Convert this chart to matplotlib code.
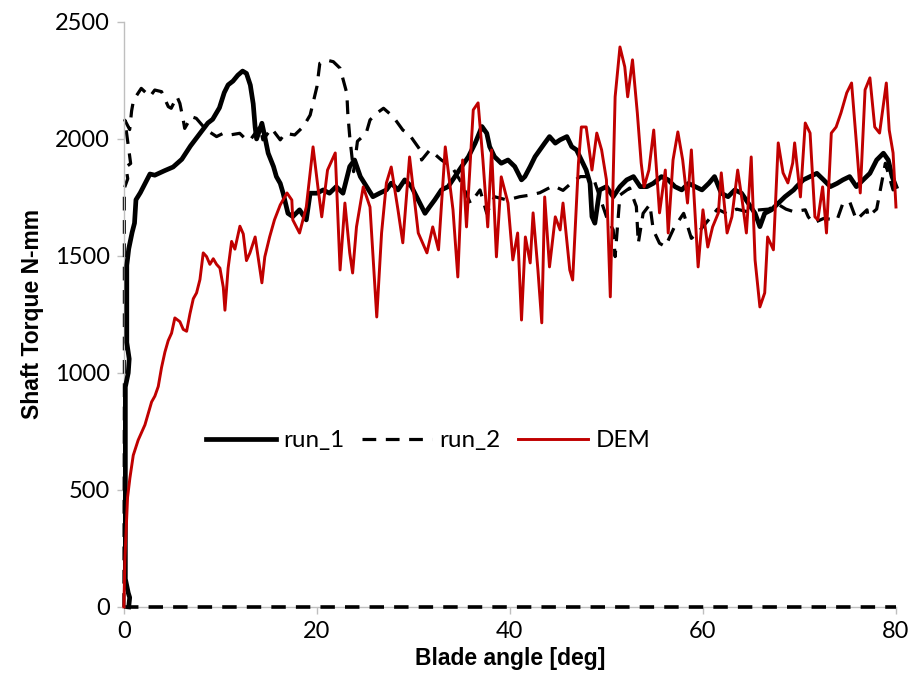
import matplotlib
matplotlib.use("Agg")
import matplotlib.pyplot as plt

# Shaft torque vs. blade angle for two experimental runs and a DEM simulation
run1_x = [0.5, 0.6, 0.45, 0.15, 0.15, 0.45, 0.55, 0.3, 0.3, 0.3, 0.5, 0.85, 1.1, 1.25, 1.7, 2.2, 2.7, 3.2,
          4.2, 5.1, 6.0, 6.9, 7.8, 8.7, 9.2, 9.9, 10.4, 10.8, 11.3, 11.8, 12.3, 12.7, 13.1, 13.4, 13.6,
          13.75, 14.3, 14.6, 14.95, 15.5, 15.8, 16.2, 16.5, 17.0, 17.5, 18.2, 18.9, 19.3, 20.0, 20.65,
          21.3, 22.0, 22.7, 23.4, 23.9, 24.5, 25.15, 25.8, 26.5, 27.2, 27.7, 28.4, 29.1, 29.8, 30.5,
          31.2, 31.7, 32.2, 32.9, 33.6, 34.3, 35.0, 35.7, 36.4, 37.1, 37.6, 37.9, 38.4, 39.1, 39.8,
          40.5, 41.2, 41.55, 42.1, 42.6, 43.1, 43.6, 44.1, 44.7, 45.2, 45.9, 46.4, 46.9, 47.4, 47.9,
          48.3, 48.5, 48.8, 49.3, 50.0, 50.7, 51.4, 52.1, 52.8, 53.5, 54.2, 54.85, 55.7, 56.4, 57.1,
          57.8, 58.5, 59.2, 59.9, 60.6, 61.2, 61.9, 62.6, 63.3, 64.0, 64.7, 65.4, 65.9, 66.4, 67.1,
          67.8, 68.5, 69.4, 69.7, 70.4, 71.1, 71.8, 72.5, 73.2, 73.9, 74.5, 75.2, 75.9, 76.6, 77.3,
          78.0, 78.7, 79.2, 79.6, 80.0]
run1_y = [0, 40, 60, 120, 940, 1000, 1060, 1130, 1200, 1460, 1530, 1600, 1640, 1740, 1770, 1810, 1850, 1845,
          1864, 1880, 1913, 1970, 2019, 2068, 2084, 2133, 2198, 2231, 2247, 2272, 2290, 2280, 2230, 2150, 2050,
          2000, 2067, 2010, 1939, 1882, 1839, 1810, 1768, 1682, 1668, 1697, 1654, 1768, 1768, 1782,
          1768, 1796, 1768, 1882, 1910, 1839, 1796, 1753, 1768, 1782, 1811, 1782, 1825, 1796, 1739,
          1682, 1711, 1739, 1782, 1796, 1839, 1882, 1924, 1982, 2053, 2024, 1967, 1924, 1896, 1910,
          1882, 1825, 1839, 1882, 1924, 1953, 1982, 2010, 1982, 1996, 2010, 1967, 1953, 1910, 1867,
          1810, 1668, 1640, 1782, 1796, 1753, 1796, 1825, 1839, 1796, 1796, 1810, 1839, 1825, 1796,
          1782, 1810, 1796, 1782, 1810, 1839, 1768, 1753, 1782, 1768, 1725, 1682, 1625, 1682, 1697,
          1725, 1753, 1782, 1796, 1825, 1839, 1853, 1825, 1796, 1810, 1825, 1839, 1796, 1825, 1853,
          1910, 1939, 1910, 1839, 1796]

run2_x = [0, 0.05, 0.05, 0.4, 0.2, 0.7, 0.1, 0.6, 0.8, 1.0, 1.8, 2.7, 3.2, 3.9, 4.6, 4.9, 5.5, 5.8, 6.15,
          6.3, 7.0, 7.5, 8.5, 9.6, 10.3, 11.0, 12.0, 12.7, 13.1, 14.1, 14.4, 15.3, 16.2, 16.7, 17.7,
          18.6, 19.3, 20.0, 20.3, 21.0, 21.7, 22.4, 23.1, 23.2, 23.4, 23.8, 24.2, 25.1, 25.5, 26.2,
          26.9, 27.9, 28.9, 29.6, 30.7, 30.85, 31.7, 32.9, 34.0, 35.0, 35.9, 36.9, 37.6, 38.4, 39.7,
          41.0, 42.1, 43.1, 44.5, 45.5, 46.6, 47.3, 48.6, 49.3, 50.0, 50.7, 50.9, 51.4, 52.4, 53.1,
          53.3, 53.8, 54.5, 54.85, 55.5, 56.1, 57.0, 58.0, 58.8, 59.5, 60.5, 61.5, 62.5, 63.5, 64.5,
          65.9, 66.8, 67.8, 68.6, 69.4, 70.6, 70.9, 71.4, 72.5, 73.9, 74.5, 75.2, 75.9, 77.0, 77.1,
          78.0, 78.9, 79.7, 80.0]
run2_y = [0, 900, 1790, 1830, 1880, 1895, 2080, 2040, 2120, 2166, 2216, 2181, 2209, 2202, 2138, 2131, 2181,
          2152, 2081, 2045, 2095, 2088, 2040, 2010, 2024, 2017, 2024, 1996, 1996, 2053, 1996, 2045, 1996,
          2024, 2017, 2053, 2102, 2223, 2323, 2337, 2330, 2302, 2195, 2109, 2010, 1860, 1990, 2024, 2081,
          2110, 2131, 2095, 2038, 2017, 1953, 1910, 1953, 1910, 1880, 1811, 1725, 1782, 1682, 1753,
          1739, 1753, 1760, 1770, 1800, 1780, 1820, 1839, 1839, 1753, 1668, 1611, 1497, 1760, 1790,
          1711, 1554, 1682, 1720, 1611, 1554, 1540, 1620, 1682, 1575, 1600, 1650, 1700, 1680, 1700,
          1690, 1697, 1700, 1720, 1700, 1689, 1697, 1668, 1640, 1660, 1654, 1725, 1732, 1654, 1697,
          1668, 1700, 1896, 1782, 1800]

# run_2 also records a zero-torque trace over the full sweep
run2_zero_x = [0, 80]
run2_zero_y = [0, 0]

dem_x = [0, 0.1, 0.38, 0.62, 0.97, 1.48, 1.83, 2.18, 2.52, 2.87, 3.21, 3.56, 3.9, 4.25, 4.59, 4.94, 5.28,
         5.8, 6.15, 6.5, 6.84, 7.19, 7.53, 7.88, 8.22, 8.57, 8.91, 9.26, 9.6, 9.95, 10.3, 10.47, 10.8,
         11.16, 11.5, 12.02, 12.37, 12.7, 13.06, 13.6, 14.3, 14.6, 15.1, 15.6, 16.2, 16.9, 17.4, 17.5,
         18.2, 18.9, 19.6, 20.1, 20.5, 21.1, 21.9, 22.4, 22.9, 23.4, 23.7, 24.1, 24.8, 25.5, 26.2,
         26.7, 27.2, 27.7, 28.4, 28.9, 29.6, 30.5, 31.4, 32.0, 32.6, 33.3, 34.1, 34.6, 35.1, 35.5,
         36.2, 36.7, 37.2, 37.7, 38.1, 38.6, 39.1, 39.8, 40.3, 40.8, 41.2, 41.6, 42.1, 42.4, 42.9,
         43.3, 43.6, 44.1, 44.7, 45.2, 45.5, 46.2, 46.5, 47.1, 47.4, 47.9, 48.5, 49.0, 49.5, 50.0,
         50.4, 50.9, 51.4, 51.9, 52.2, 52.7, 53.2, 53.6, 53.9, 54.4, 54.9, 55.5, 56.1, 56.4, 56.9,
         57.4, 57.9, 58.4, 58.8, 59.5, 60.0, 60.5, 61.0, 61.6, 61.9, 62.5, 63.0, 63.6, 64.1, 64.5,
         65.0, 65.4, 65.9, 66.4, 66.7, 67.3, 67.8, 68.3, 68.8, 69.3, 69.5, 70.1, 70.6, 71.1, 71.6,
         71.9, 72.4, 72.8, 73.3, 73.8, 74.3, 74.9, 75.4, 75.9, 76.3, 76.8, 77.3, 77.8, 78.3, 79.0,
         79.3, 79.7, 80.0]
dem_y = [0, 200, 468, 550, 648, 713, 746, 778, 827, 876, 901, 942, 1023, 1089, 1138, 1170, 1235,
         1219, 1186, 1178, 1252, 1317, 1342, 1399, 1513, 1497, 1464, 1488, 1464, 1448, 1366, 1268, 1448,
         1562, 1529, 1627, 1594, 1480, 1513, 1581, 1385, 1496, 1581, 1654, 1718, 1769, 1739, 1654,
         1598, 1709, 1966, 1795, 1667, 1867, 1940, 1440, 1726, 1513, 1427, 1624, 1795, 1709, 1239,
         1598, 1812, 1880, 1697, 1556, 1923, 1598, 1513, 1624, 1526, 1966, 1697, 1410, 1910, 1624,
         2124, 2154, 1910, 1624, 1953, 1496, 1838, 1726, 1483, 1598, 1226, 1581, 1470, 1684, 1440,
         1214, 1752, 1453, 1667, 1611, 1726, 1440, 1397, 1897, 2051, 2051, 1867, 2025, 1953, 1825,
         1325, 2180, 2393, 2308, 2180, 2338, 2111, 1897, 1795, 1867, 2038, 1684, 1867, 1598, 1910,
         2030, 1910, 1726, 1953, 1453, 1697, 1538, 1624, 1684, 1855, 1598, 1667, 1867, 1726, 1598,
         1923, 1483, 1282, 1342, 1581, 1526, 1983, 1855, 1812, 1897, 1983, 1752, 2068, 2025, 1667,
         1654, 1795, 1598, 2025, 2051, 2111, 2197, 2239, 1983, 1769, 2210, 2261, 2051, 2025, 2239,
         2038, 1940, 1709]

x_ticks = [0, 20, 40, 60, 80]
y_ticks = [0, 500, 1000, 1500, 2000, 2500]

text_font = "Lato"
title_font = "Liberation Sans"
grey = "#BFBFBF"

fig = plt.figure(figsize=(9.11, 6.96), dpi=100)
ax = fig.add_axes([0.136, 0.128, 0.8475, 0.8405])

ax.plot(run1_x, run1_y, color="black", lw=3.4, solid_joinstyle="round",
        label="run_1", clip_on=False, zorder=3)
ax.plot(run2_x, run2_y, color="black", lw=2.3, dashes=(4.3, 3.0),
        label="run_2", clip_on=False, zorder=2)
ax.plot(run2_zero_x, run2_zero_y, color="black", lw=2.6, dashes=(4.0, 2.8),
        clip_on=False, zorder=2)
ax.plot(dem_x, dem_y, color="#C00000", lw=2.1, label="DEM", clip_on=False, zorder=4)

ax.set_xlim(0, 80)
ax.set_ylim(0, 2500)
ax.set_xticks(x_ticks)
ax.set_yticks(y_ticks)

for side in ("top", "right"):
    ax.spines[side].set_visible(False)
for side in ("left", "bottom"):
    ax.spines[side].set_color(grey)
    ax.spines[side].set_linewidth(1.0)
ax.spines["bottom"].set_zorder(1)

ax.tick_params(axis="both", direction="out", length=5, width=1, color=grey,
               labelsize=17, pad=5)
for lbl in ax.get_xticklabels() + ax.get_yticklabels():
    lbl.set_fontfamily(text_font)

ax.set_xlabel("Blade angle [deg]", fontsize=16.5, fontweight="bold",
              fontfamily=title_font, labelpad=4)
ax.set_ylabel("Shaft Torque N-mm", fontsize=16.5, fontweight="bold",
              fontfamily=title_font, labelpad=8)

ax.legend(loc="center", bbox_to_anchor=(0.394, 0.284), ncol=3, frameon=False,
          handlelength=2.9, handletextpad=0.3, columnspacing=0.7,
          prop={"family": text_font, "size": 17.5})

fig.savefig("out.png", dpi=100)
